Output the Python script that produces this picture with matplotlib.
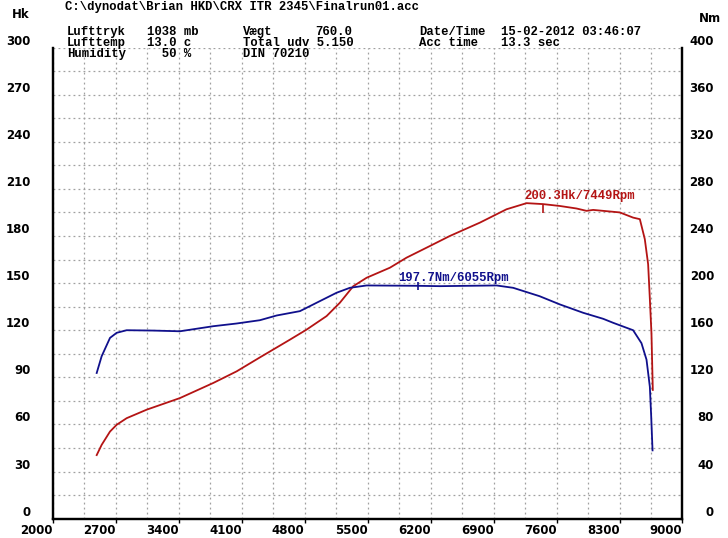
import matplotlib.pyplot as plt

# power curve (Hk)
rpm_hk = [2489, 2544, 2637, 2711, 2822, 3044, 3414, 3784, 4044, 4303, 4637, 4822, 5044, 5192, 5340,
          5489, 5748, 5933, 6192, 6414, 6748, 7044, 7267, 7449, 7637, 7822, 7933, 8007, 8303, 8451,
          8526, 8581, 8618, 8637, 8655, 8670]
hk = [40.5, 47, 55.5, 59.8, 64, 69.4, 76.8, 86.4, 93.8, 102.7, 114, 120.4, 129, 137.5, 148,
      153.4, 159.8, 166.2, 173.6, 180, 188.5, 197, 200.9, 200.3, 199.1, 197.5, 196, 196.6, 195, 191.7,
      190.7, 178, 162, 140, 118, 82]

# torque curve (Nm)
rpm_nm = [2489, 2544, 2637, 2711, 2822, 3118, 3414, 3784, 4044, 4303, 4489, 4748, 4933, 5155, 5303,
          5489, 6055, 6303, 6933, 7118, 7411, 7637, 7896, 8118, 8229, 8451, 8544, 8600, 8637, 8652,
          8667]
nm = [123.7, 137.9, 153.5, 157.8, 160, 159.7, 159.1, 163.4, 165.7, 168.5, 172.5, 176.2, 183.3, 191.8, 196,
      198, 197.7, 197.4, 198, 196, 188.9, 181.9, 174.8, 169.7, 166.3, 160, 149, 135, 112, 87,
      58]

x_ticks = [2000, 2700, 3400, 4100, 4800, 5500, 6200, 6900, 7600, 8300, 9000]
hk_ticks = [0, 30, 60, 90, 120, 150, 180, 210, 240, 270, 300]
nm_ticks = [0, 40, 80, 120, 160, 200, 240, 280, 320, 360, 400]

peak_hk = (7449, 200.3)
peak_nm = (6055, 197.7)

header = [
    (65, 7, "C:\\dynodat\\Brian HKD\\CRX ITR 2345\\Finalrun01.acc"),
    (67, 32, "Lufttryk"), (147, 32, "1038 mb"), (243, 32, "Vægt"), (315, 32, "760.0"),
    (419, 32, "Date/Time"), (501, 32, "15-02-2012 03:46:07"),
    (67, 43, "Lufttemp"), (147, 43, "13.0 c"), (243, 43, "Total udv 5.150"),
    (419, 43, "Acc time"), (501, 43, "13.3 sec"),
    (67, 54, "Humidity"), (147, 54, "  50 %"), (243, 54, "DIN 70210"),
]

RED = '#b41414'
BLUE = '#10108c'
W, H = 728, 538

fig = plt.figure(figsize=(W / 100, H / 100), dpi=100)
ax = fig.add_axes([52.7 / W, 1 - 518.7 / H, 629.8 / W, 471.2 / H])
ax2 = ax.twinx()

ax.set_xlim(2000, 9000)
ax.set_ylim(0, 300)
ax2.set_ylim(0, 400)

ax.set_xticks(x_ticks)
ax.set_xticks(range(2350, 9000, 700), minor=True)
ax.set_yticks(hk_ticks)
ax.set_yticks(range(15, 300, 30), minor=True)
ax2.set_yticks(nm_ticks)

ax.grid(True, which='both', color='#a0a0a0', linestyle=(0, (1.5, 2.5)), linewidth=0.9)
ax.set_axisbelow(True)

ax.plot(rpm_hk, hk, color=RED, lw=1.3)
ax2.plot(rpm_nm, nm, color=BLUE, lw=1.3)

# peak markers + labels
ax.plot(peak_hk[0], peak_hk[1] - 3, marker='|', ms=6, color=RED, mew=1.2)
ax.text(7237, 205.5, "%.1fHk/%dRpm" % (peak_hk[1], peak_hk[0]), color=RED,
        family='Liberation Mono', weight='bold', fontsize=8.8, va='center')
ax2.plot(peak_nm[0], peak_nm[1], marker='|', ms=6, color=BLUE, mew=1.2)
ax2.text(5840, 204.3, "%.1fNm/%dRpm" % (peak_nm[1], peak_nm[0]), color=BLUE,
         family='Liberation Mono', weight='bold', fontsize=8.8, va='center')

for a in (ax, ax2):
    a.spines['top'].set_visible(False)
    for s in ('left', 'right', 'bottom'):
        a.spines[s].set_linewidth(1.6)

ax.tick_params(axis='x', which='major', length=3, width=1, pad=1, labelsize=8.5)
ax.tick_params(axis='x', which='minor', length=0)
ax.tick_params(axis='y', which='both', length=0, pad=16, labelsize=8.5)
ax2.tick_params(axis='y', length=0, pad=22.7, labelsize=8.5)

for lab in ax.get_xticklabels():
    lab.set_ha('right')
    lab.set_fontweight('bold')
for lab in ax.get_yticklabels():
    lab.set_va('bottom')
    lab.set_fontweight('bold')
for lab in ax2.get_yticklabels():
    lab.set_va('bottom')
    lab.set_ha('right')
    lab.set_fontweight('bold')

fig.text(12 / W, 1 - 15 / H, "Hk", fontsize=8.5, weight='bold', va='center')
fig.text(699 / W, 1 - 18 / H, "Nm", fontsize=8.5, weight='bold', va='center')

for x, y, s in header:
    fig.text(x / W, 1 - y / H, s, family='Liberation Mono', weight='bold', fontsize=8.8, va='center')

fig.savefig('out.png', dpi=100)
